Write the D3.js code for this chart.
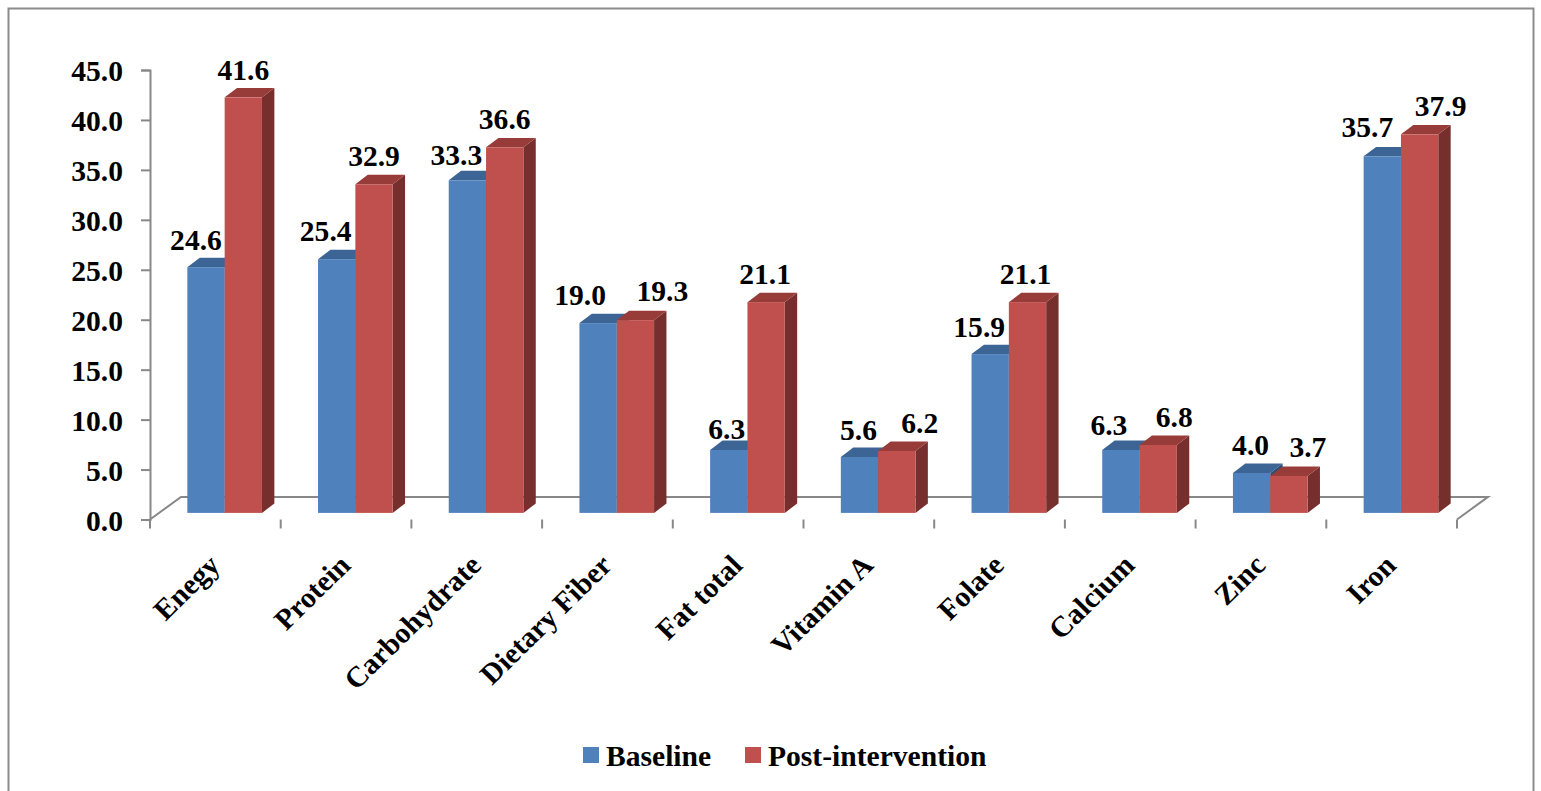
<!DOCTYPE html>
<html>
<head>
<meta charset="utf-8">
<script src="https://cdn.jsdelivr.net/npm/d3@7"></script>
<style>
  html, body { margin: 0; padding: 0; background: #fff; }
  svg { display: block; }
  text { font-family: "Liberation Serif", "Times New Roman", serif; font-weight: bold; fill: #000; }
</style>
</head>
<body>
<svg id="chart" width="1541" height="791"></svg>
<script>
// Nutrient categories and the two series
const categories = ["Enegy", "Protein", "Carbohydrate", "Dietary Fiber", "Fat total",
                    "Vitamin A", "Folate", "Calcium", "Zinc", "Iron"];
const baseline = [24.6, 25.4, 33.3, 19.0, 6.3, 5.6, 15.9, 6.3, 4.0, 35.7];
const postIntervention = [41.6, 32.9, 36.6, 19.3, 21.1, 6.2, 21.1, 6.8, 3.7, 37.9];
const seriesNames = ["Baseline", "Post-intervention"];
const yTicks = [0, 5, 10, 15, 20, 25, 30, 35, 40, 45];

// Label shifts [dx, dy] that keep neighbouring value labels apart
const baselineLabelShift = [[-10, 1], [-11, 0], [-11, 3], [-18, 0], [-2, 7], [-1, 1], [-11, 1], [-12, 3], [-1, 0], [-15, -1]];
const postLabelShift = [[0, 1], [0, 0], [0, 0], [27, -1], [-1, 0], [23, 0], [-2, 0], [16, 0], [19, -1], [21, 0]];

const palette = {
  blue:  { front: "#4F81BD", top: "#3C6494", side: "#2F4E74" },
  red:   { front: "#C0504D", top: "#983C3A", side: "#772F2D" }
};
const fontSize = "29px";
const stretch = 1.02;            // slight horizontal text stretch
const floorDepth = [31, -22.6];  // depth vector of the floor
const barOffset = [9.3, -6.6];   // where the bar fronts sit inside the floor
const barDepth = [12.4, -9.4];   // depth of each bar

const svg = d3.select("#chart");

// outer frame
svg.append("rect")
  .attr("x", 8.5).attr("y", 8.5).attr("width", 1525).attr("height", 790)
  .attr("fill", "none").attr("stroke", "#8C8C8C").attr("stroke-width", 2);

const x = d3.scaleBand().domain(categories).range([150, 1457]).paddingInner(0).paddingOuter(0);
const y = d3.scaleLinear().domain([0, 45]).range([519.5, 70]);

const axisColor = "#888888";

// floor of the 3D plot
const x0 = x.range()[0], x1 = x.range()[1], yb = y(0);
svg.append("path")
  .attr("d", `M${x0},${yb} L${x0 + floorDepth[0]},${yb + floorDepth[1]} L${x1 + floorDepth[0]},${yb + floorDepth[1]} L${x1},${yb}`)
  .attr("fill", "none").attr("stroke", axisColor).attr("stroke-width", 2);

// value axis
const yAxis = svg.append("g")
  .attr("transform", `translate(${x0},0)`)
  .call(d3.axisLeft(y).tickValues(yTicks).tickSize(9).tickFormat(d3.format(".1f")));
yAxis.select(".domain").attr("stroke", axisColor).attr("stroke-width", 2);
yAxis.selectAll(".tick line").attr("stroke", axisColor).attr("stroke-width", 2);
yAxis.selectAll(".tick text")
  .attr("x", null).attr("dy", null)
  .attr("transform", `translate(-27,10.5) scale(${stretch},1)`)
  .attr("text-anchor", "end")
  .style("font-size", fontSize)
  .style("font-family", "'Liberation Serif', 'Times New Roman', serif")
  .style("font-weight", "bold");

// category axis: boundary ticks and rotated names
const boundaries = categories.map(c => x(c)).concat([x1]);
svg.append("g").selectAll("line").data(boundaries).join("line")
  .attr("x1", d => d).attr("x2", d => d)
  .attr("y1", yb).attr("y2", yb + 9)
  .attr("stroke", axisColor).attr("stroke-width", 2);

svg.append("g").selectAll("text").data(categories).join("text")
  .attr("transform", d => `translate(${x(d) + x.bandwidth() / 2 + 6},567) scale(${stretch},1) rotate(-45)`)
  .attr("text-anchor", "end")
  .style("font-size", fontSize)
  .text(d => d);

// bars
const barW = x.bandwidth() * 0.2855;
const series = [
  { name: seriesNames[0], values: baseline, color: palette.blue, shift: baselineLabelShift, idx: 0 },
  { name: seriesNames[1], values: postIntervention, color: palette.red, shift: postLabelShift, idx: 1 }
];

const barsG = svg.append("g");
const labelsG = svg.append("g");

categories.forEach((cat, i) => {
  const center = x(cat) + x.bandwidth() / 2 + barOffset[0];
  series.forEach(s => {
    const v = s.values[i];
    const left = center - barW + s.idx * barW;
    const right = left + barW;
    const bottom = y(0) + barOffset[1];
    const top = y(v) + barOffset[1];
    const dx = barDepth[0], dy = barDepth[1];
    const g = barsG.append("g");
    // side face
    g.append("path")
      .attr("d", `M${right},${top} L${right + dx},${top + dy} L${right + dx},${bottom + dy} L${right},${bottom} Z`)
      .attr("fill", s.color.side);
    // top face
    g.append("path")
      .attr("d", `M${left},${top} L${left + dx},${top + dy} L${right + dx},${top + dy} L${right},${top} Z`)
      .attr("fill", s.color.top);
    // front face
    g.append("rect")
      .attr("x", left).attr("y", top).attr("width", barW).attr("height", bottom - top)
      .attr("fill", s.color.front);

    const [sx, sy] = s.shift[i];
    labelsG.append("text")
      .attr("transform", `translate(${(left + right) / 2 + sx},${top + dy - 9 + sy}) scale(${stretch},1)`)
      .attr("text-anchor", "middle")
      .style("font-size", fontSize)
      .text(d3.format(".1f")(v));
  });
});

// legend
const legend = svg.append("g");
const legendItems = [
  { name: seriesNames[0], color: palette.blue.front, sx: 583, tx: 606 },
  { name: seriesNames[1], color: palette.red.front, sx: 745, tx: 768 }
];
legendItems.forEach(it => {
  legend.append("rect").attr("x", it.sx).attr("y", 747).attr("width", 16).attr("height", 16).attr("fill", it.color);
  legend.append("text")
    .attr("transform", `translate(${it.tx},765.5) scale(${stretch},1)`)
    .style("font-size", fontSize)
    .text(it.name);
});
</script>
</body>
</html>
